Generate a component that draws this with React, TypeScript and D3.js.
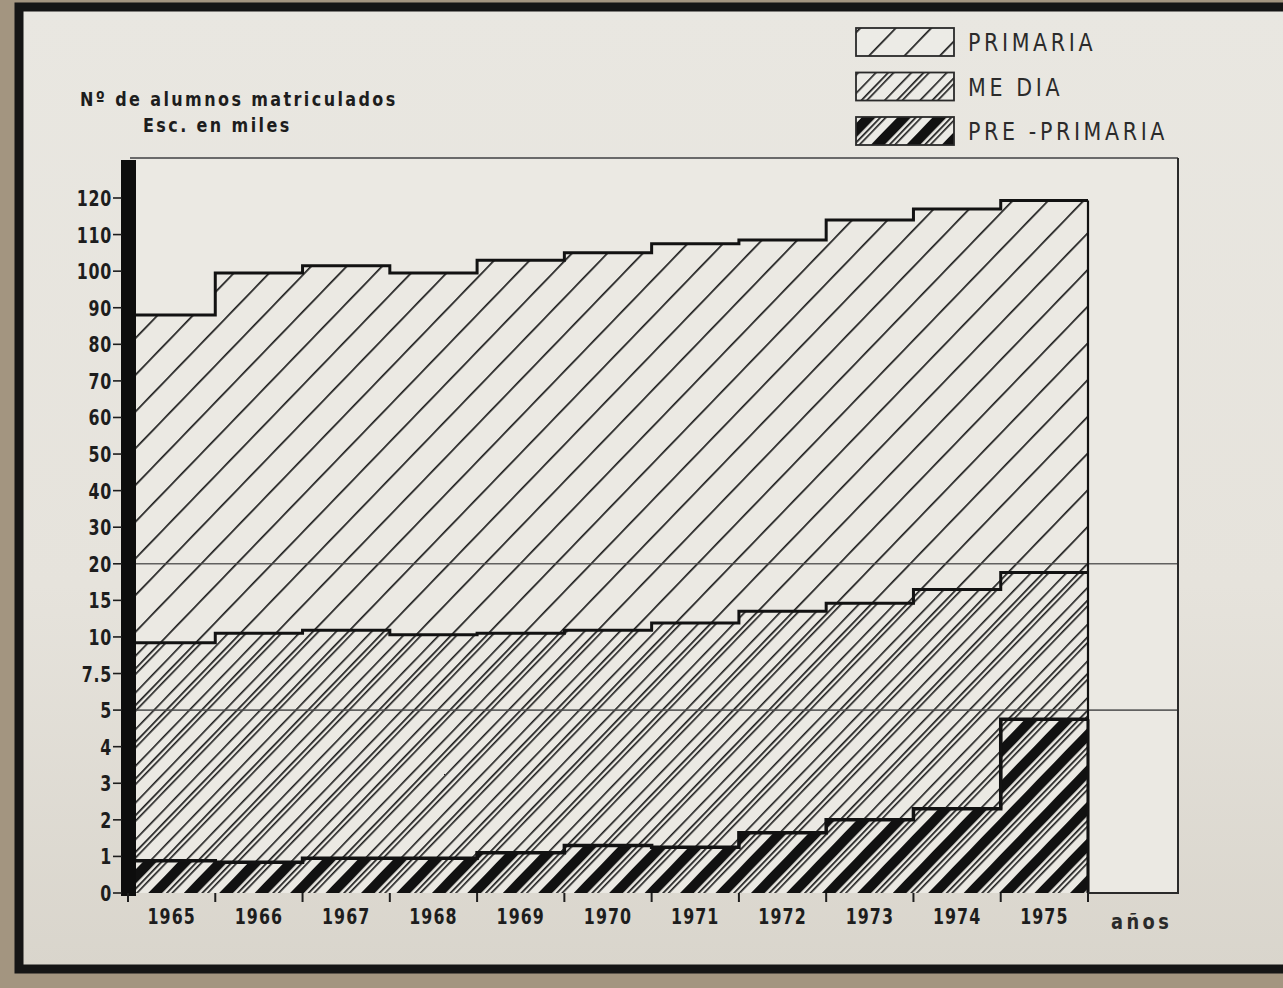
import React from "react";
import * as d3 from "d3";

const years = [1965, 1966, 1967, 1968, 1969, 1970, 1971, 1972, 1973, 1974, 1975];
const primaria = [88, 99.5, 101.5, 99.5, 103, 105, 107.5, 108.5, 114, 117, 119.3];
const media = [9.6, 10.5, 10.9, 10.3, 10.5, 10.9, 11.9, 13.5, 14.6, 16.5, 18.8];
const prePrimaria = [0.88, 0.84, 0.95, 0.95, 1.1, 1.3, 1.25, 1.65, 2.0, 2.3, 4.75];
const yTicks = [0, 1, 2, 3, 4, 5, 7.5, 10, 15, 20, 30, 40, 50, 60, 70, 80, 90, 100, 110, 120];
const yTickLabels = ["0", "1", "2", "3", "4", "5", "7.5", "10", "15", "20", "30", "40", "50", "60", "70", "80", "90", "100", "110", "120"];
const refLines = [20, 5];
const legendItems = [
  { label: "PRIMARIA", layers: ["patPrim"] },
  { label: "ME DIA", layers: ["patPrim", "patMed"] },
  { label: "PRE -PRIMARIA", layers: ["patPrim", "patMed", "patPre"] },
];

const W = 1283;
const H = 988;
const FONT = "'DejaVu Sans', sans-serif";
const INK = "#1d1d1d";

function CText(props: {
  x: number;
  y: number;
  sx: number;
  size: number;
  bold?: boolean;
  anchor?: string;
  ls?: number;
  fill?: string;
  children: React.ReactNode;
}) {
  return (
    <text
      transform={`translate(${props.x},${props.y}) scale(${props.sx},1)`}
      x={0}
      y={0}
      textAnchor={props.anchor || "start"}
      fontFamily={FONT}
      fontWeight={props.bold ? "bold" : "normal"}
      fontSize={props.size}
      letterSpacing={props.ls || 0}
      fill={props.fill || INK}
    >
      {props.children}
    </text>
  );
}

export default function App() {
  const yBottom = 893;
  const yTop = 198;
  const step = (yBottom - yTop) / (yTicks.length - 1);
  const y = d3.scaleLinear().domain(yTicks).range(yTicks.map((_, i) => yBottom - i * step));
  const x = d3.scaleLinear().domain([1965, 1976]).range([128, 1088]);

  const plotLeft = 130;
  const plotRight = 1178;
  const plotTop = 158;

  const mk = (vals: number[]) => {
    const pts = years.map((yr, i) => ({ yr, v: vals[i] }));
    pts.push({ yr: years[years.length - 1] + 1, v: vals[vals.length - 1] });
    return pts;
  };
  const area = d3
    .area<{ yr: number; v: number }>()
    .x((d) => x(d.yr))
    .y0(y(0))
    .y1((d) => y(d.v))
    .curve(d3.curveStepAfter);
  const line = d3
    .line<{ yr: number; v: number }>()
    .x((d) => x(d.yr))
    .y((d) => y(d.v))
    .curve(d3.curveStepAfter);

  const series = [
    { vals: primaria, pat: "patPrim" },
    { vals: media, pat: "patMed" },
    { vals: prePrimaria, pat: "patPre" },
  ];
  const xEnd = x(1976);

  return (
    <svg
      width={W}
      height={H}
      style={{ position: "absolute", left: 0, top: 0 }}
      xmlns="http://www.w3.org/2000/svg"
    >
      <defs>
        <pattern id="patPrim" patternUnits="userSpaceOnUse" width={25.5} height={10} patternTransform="rotate(44)">
          <rect x={0} y={0} width={1.7} height={10} fill={INK} />
        </pattern>
        <pattern id="patMed" patternUnits="userSpaceOnUse" width={12.75} height={10} patternTransform="rotate(44) translate(4,0)">
          <rect x={0} y={0} width={1.6} height={10} fill={INK} />
        </pattern>
        <pattern id="patPre" patternUnits="userSpaceOnUse" width={25.5} height={10} patternTransform="rotate(44) translate(13,0)">
          <rect x={0} y={0} width={10} height={10} fill="#111" />
        </pattern>
        <linearGradient id="paper" x1="0" y1="0" x2="0" y2="1">
          <stop offset="0" stopColor="#e9e7e1" />
          <stop offset="0.6" stopColor="#e6e3dc" />
          <stop offset="1" stopColor="#d9d5cc" />
        </linearGradient>
      </defs>

      {/* background / photo frame */}
      <rect x={0} y={0} width={W} height={H} fill="#a39580" />
      <rect x={19} y={7} width={W + 20} height={962} fill="url(#paper)" stroke="#151515" strokeWidth={9} />

      {/* plot frame fill */}
      <rect x={plotLeft} y={plotTop} width={plotRight - plotLeft} height={y(0) - plotTop} fill="#ebe9e3" />

      {/* areas */}
      {series.map((s) => (
        <path key={s.pat} d={area(mk(s.vals)) || ""} fill={`url(#${s.pat})`} />
      ))}

      {/* reference lines */}
      {refLines.map((r) => (
        <line key={r} x1={plotLeft} x2={plotRight} y1={y(r)} y2={y(r)} stroke="#4a4a4a" strokeWidth={1.6} opacity={0.85} />
      ))}

      {/* outlines */}
      {series.map((s, i) => (
        <path key={"l" + s.pat} d={line(mk(s.vals)) || ""} fill="none" stroke="#121212" strokeWidth={i === 2 ? 3.5 : 3} />
      ))}
      <line x1={xEnd} x2={xEnd} y1={y(primaria[primaria.length - 1])} y2={y(0)} stroke="#121212" strokeWidth={2.2} />
      <line x1={xEnd} x2={xEnd} y1={y(prePrimaria[prePrimaria.length - 1])} y2={y(0)} stroke="#121212" strokeWidth={3} />
      <line
        x1={x(1975)}
        x2={x(1975)}
        y1={y(prePrimaria[prePrimaria.length - 1])}
        y2={y(prePrimaria[prePrimaria.length - 2])}
        stroke="#121212"
        strokeWidth={3}
      />

      {/* plot frame */}
      <line x1={plotLeft} x2={plotRight} y1={plotTop} y2={plotTop} stroke="#6a6a6a" strokeWidth={2} />
      <line x1={plotRight} x2={plotRight} y1={plotTop} y2={y(0) + 1} stroke="#2a2a2a" strokeWidth={2} />
      <line x1={xEnd} x2={plotRight} y1={y(0)} y2={y(0)} stroke="#2a2a2a" strokeWidth={2} />

      {/* thick left axis */}
      <rect x={121} y={plotTop + 2} width={15} height={y(0) - plotTop + 1} fill="#0d0d0d" />

      {/* y ticks */}
      {yTicks.map((t, i) => (
        <g key={t}>
          <line x1={113} x2={122} y1={y(t)} y2={y(t)} stroke={INK} strokeWidth={1.6} />
          <CText x={112} y={y(t) + 8} sx={0.72} size={22} bold anchor="end" ls={1}>
            {yTickLabels[i]}
          </CText>
        </g>
      ))}

      {/* x ticks */}
      {[...years, 1976].map((yr) => (
        <line key={yr} x1={x(yr)} x2={x(yr)} y1={y(0)} y2={y(0) + 9} stroke={INK} strokeWidth={2} />
      ))}
      {years.map((yr) => (
        <CText key={"t" + yr} x={x(yr + 0.5)} y={y(0) + 31} sx={0.72} size={22} bold anchor="middle" ls={1.5}>
          {yr}
        </CText>
      ))}
      <CText x={1111} y={y(0) + 36} sx={0.85} size={21} bold ls={4} fill="#2a2a2a">
        años
      </CText>

      {/* title */}
      <CText x={80} y={106} sx={0.8} size={20} bold ls={3}>
        Nº de alumnos matriculados
      </CText>
      <CText x={143} y={132} sx={0.8} size={20} bold ls={3}>
        Esc. en miles
      </CText>

      {/* legend */}
      {legendItems.map((it, i) => {
        const ly = 28 + i * 44.5;
        return (
          <g key={it.label}>
            <rect x={856} y={ly} width={98} height={28} fill="#ecebe6" />
            {it.layers.map((p) => (
              <rect key={p} x={856} y={ly} width={98} height={28} fill={`url(#${p})`} />
            ))}
            <rect x={856} y={ly} width={98} height={28} fill="none" stroke="#2a2a2a" strokeWidth={1.8} />
            <CText x={968} y={ly + 23} sx={0.86} size={24} ls={4.2} fill="#2b2b2b">
              {it.label}
            </CText>
          </g>
        );
      })}
    </svg>
  );
}
